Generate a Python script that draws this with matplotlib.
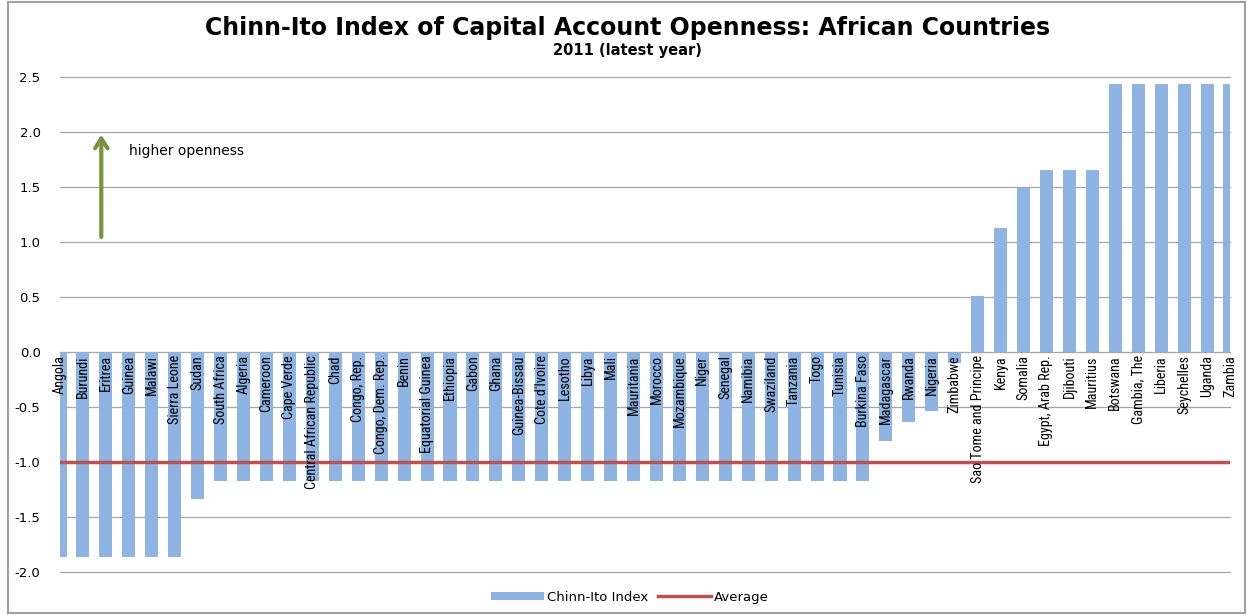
import numpy as np
import matplotlib
matplotlib.use('Agg')
import matplotlib.pyplot as plt
from matplotlib import font_manager
from matplotlib.patches import Rectangle

# Data
countries = ['Angola', 'Burundi', 'Eritrea', 'Guinea', 'Malawi', 'Sierra Leone', 'Sudan',
             'South Africa', 'Algeria', 'Cameroon', 'Cape Verde', 'Central African Republic',
             'Chad', 'Congo, Rep.', 'Congo, Dem. Rep.', 'Benin', 'Equatorial Guinea',
             'Ethiopia', 'Gabon', 'Ghana', 'Guinea-Bissau', "Cote d'Ivoire", 'Lesotho',
             'Libya', 'Mali', 'Mauritania', 'Morocco', 'Mozambique', 'Niger', 'Senegal',
             'Namibia', 'Swaziland', 'Tanzania', 'Togo', 'Tunisia', 'Burkina Faso',
             'Madagascar', 'Rwanda', 'Nigeria', 'Zimbabwe', 'Sao Tome and Principe',
             'Kenya', 'Somalia', 'Egypt, Arab Rep.', 'Djibouti', 'Mauritius',
             'Botswana', 'Gambia, The', 'Liberia', 'Seychelles', 'Uganda', 'Zambia']
kaopen = [-1.86] * 6 + [-1.34] + [-1.17] * 29 + \
         [-0.81, -0.64, -0.54, -0.10, 0.51, 1.13, 1.49, 1.65, 1.65, 1.65] + [2.44] * 6
average = -1.0
yticks = [-2.0, -1.5, -1.0, -0.5, 0.0, 0.5, 1.0, 1.5, 2.0, 2.5]

bar_color = '#8DB4E2'
avg_color = '#C0504D'
grid_color = '#A6A6A6'

# pick a narrow font for the rotated country names if one is installed
lab_kw = dict(family=['Liberation Sans', 'DejaVu Sans'], fontsize=8.4)
for f in font_manager.fontManager.ttflist:
    if f.name in ('Liberation Sans Narrow', 'Roboto Condensed', 'Open Sans Condensed'):
        lab_kw = dict(family=[f.name, 'DejaVu Sans'], fontsize=10.2)
        break
    if f.name == 'DejaVu Sans' and str(f.stretch) in ('condensed', 'semi-condensed'):
        lab_kw = dict(family=['DejaVu Sans'], fontstretch=f.stretch, fontsize=8.7)

fig = plt.figure(figsize=(12.5, 6.15), dpi=100)
ax = fig.add_axes([0.048, 0.0699, 0.936, 0.805])

x = np.arange(len(countries))
bars = ax.bar(x, kaopen, width=0.57, color=bar_color, zorder=2)
avg_line, = ax.plot([-1, len(countries)], [average, average], color=avg_color,
                    linewidth=2.5, zorder=3)

ax.set_xlim(0, len(countries) - 1)
ax.set_ylim(-2.0, 2.5)
ax.set_yticks(yticks)
ax.set_yticklabels(['%.1f' % v for v in yticks], fontsize=9.5)
ax.tick_params(axis='y', length=0, pad=14)
ax.set_xticks([])
ax.grid(axis='y', color=grid_color, linewidth=0.9, zorder=0)
ax.set_axisbelow(True)
for gl in ax.get_ygridlines():
    gl.set_clip_on(False)
for s in ax.spines.values():
    s.set_visible(False)

# Country labels hanging below the zero line
for xi, name in zip(x, countries):
    ax.text(xi, -0.03, name, rotation=90, ha='center', va='top', zorder=4,
            clip_on=False, **lab_kw)

# Arrow annotation
ax.annotate('', xy=(1.8, 2.0), xytext=(1.8, 1.02),
            arrowprops=dict(arrowstyle='->,head_width=0.45,head_length=0.7',
                            color='#77933C', linewidth=3))
ax.text(3.0, 1.83, 'higher openness', fontsize=10, va='center', ha='left')

# Titles
fig.text(0.502, 0.955, 'Chinn-Ito Index of Capital Account Openness: African Countries',
         ha='center', va='center', fontsize=17, fontweight='bold')
fig.text(0.502, 0.918, '2011 (latest year)', ha='center', va='center',
         fontsize=10.5, fontweight='bold')

# Legend
fig.legend([bars, avg_line], ['Chinn-Ito Index', 'Average'], loc='center',
           bbox_to_anchor=(0.504, 0.029), ncol=2, frameon=False, fontsize=9.5,
           handlelength=4, handleheight=0.6, columnspacing=0.8, handletextpad=0.2)

# Outer chart border
fig.patches.append(Rectangle((0.006, 0.003), 0.99, 0.993, transform=fig.transFigure,
                             fill=False, edgecolor='#A0A0A0', linewidth=1.5))

plt.savefig('out.png', dpi=100)
plt.close()
